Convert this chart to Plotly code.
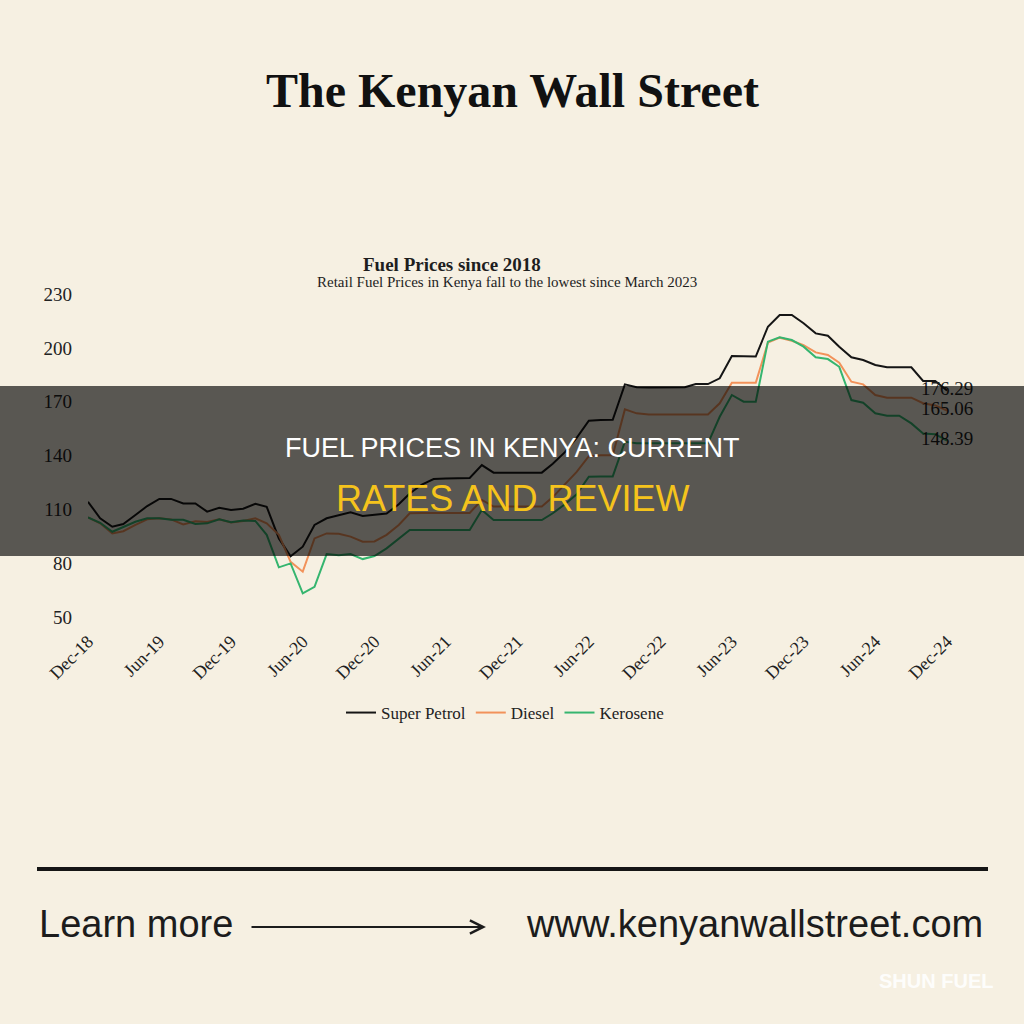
import plotly.graph_objects as go
import pandas as pd

# ---- data (monthly Dec-2018 .. Dec-2024) ----
months = pd.date_range("2018-12-01", "2024-12-01", freq="MS")

super_petrol = [114.4, 105.2, 100.5, 102.0, 107.0, 112.0, 116.0, 116.0, 113.5, 113.5,
                108.9, 111.0, 109.8, 110.5, 113.3, 111.6, 94.0, 84.0, 89.4, 101.5,
                105.2, 106.8, 108.5, 106.5, 107.2, 107.8, 113.0, 119.0, 124.0, 127.0,
                127.4, 127.4, 127.6, 134.8, 130.6, 130.6, 130.6, 130.6, 130.6, 135.5,
                142.0, 150.0, 159.5, 159.9, 160.0, 179.7, 178.1, 178.0, 178.0, 178.0,
                178.1, 179.9, 179.9, 183.1, 195.5, 195.4, 195.2, 211.8, 218.3, 218.3,
                213.7, 208.1, 206.8, 200.7, 194.8, 193.3, 190.5, 189.2, 189.2, 189.2,
                181.6, 181.6, 176.29]

diesel = [105.7, 102.4, 96.8, 98.0, 101.5, 104.6, 105.2, 104.6, 101.8, 103.5,
          103.2, 104.6, 102.9, 103.7, 105.2, 102.4, 96.0, 81.0, 75.5, 94.0,
          96.8, 96.6, 95.0, 92.2, 92.3, 96.0, 101.5, 108.0, 108.2, 108.2,
          108.2, 108.2, 108.2, 115.4, 111.7, 111.7, 111.7, 111.7, 111.7, 117.0,
          124.0, 131.0, 139.8, 140.3, 140.3, 165.8, 163.6, 163.0, 163.0, 163.0,
          163.0, 163.0, 163.0, 169.2, 180.6, 180.6, 180.6, 202.9, 205.7, 204.0,
          201.6, 197.5, 196.1, 191.8, 181.2, 179.7, 173.8, 172.3, 172.3, 172.3,
          169.2, 168.0, 165.06]

kerosene = [105.7, 102.7, 97.7, 100.5, 103.3, 105.2, 105.2, 104.4, 104.4, 102.0,
            102.4, 104.6, 103.0, 104.0, 103.7, 96.0, 77.9, 80.1, 63.4, 67.1,
            85.3, 84.7, 85.3, 82.5, 84.2, 88.5, 94.0, 98.7, 98.7, 98.7,
            98.7, 98.7, 98.7, 109.8, 104.2, 104.2, 104.2, 104.2, 104.2, 108.0,
            113.0, 118.5, 128.3, 128.5, 128.5, 147.8, 146.9, 146.9, 146.9, 146.9,
            146.9, 146.9, 146.9, 161.7, 173.8, 170.1, 170.1, 203.5, 205.9, 204.4,
            200.7, 194.8, 193.8, 189.5, 171.0, 169.5, 163.6, 162.3, 162.3, 158.0,
            152.4, 152.0, 148.39]

series_names = ["Super Petrol", "Diesel", "Kerosene"]
series_values = [super_petrol, diesel, kerosene]
series_colors = ["#151515", "#f2925a", "#35b56f"]

y_ticks = [50, 80, 110, 140, 170, 200, 230]

W = H = 1024
BG = "#f6f0e2"
SERIF = "Liberation Serif"
SANS = "Liberation Sans"


def px(x):
    return x / W


def py(y):
    return 1 - y / H


fig = go.Figure()
for name, vals, col in zip(series_names, series_values, series_colors):
    labels = [""] * (len(vals) - 1) + [f"{vals[-1]:.2f}"]
    fig.add_trace(go.Scatter(
        x=months, y=vals, name=name, mode="lines+text",
        line=dict(color=col, width=2),
        text=labels, textposition="middle center",
        textfont=dict(family=SERIF, size=19, color="#1e1e1e"),
        cliponaxis=False, hoverinfo="skip",
    ))

fig.update_layout(
    template="none",
    width=W, height=H,
    margin=dict(l=0, r=0, t=0, b=0),
    paper_bgcolor=BG, plot_bgcolor=BG,
    showlegend=True,
    legend=dict(orientation="h", x=px(505), xanchor="center",
                y=py(713), yanchor="middle",
                bgcolor="rgba(0,0,0,0)",
                font=dict(family=SERIF, size=17, color="#222"),
                itemwidth=30),
    xaxis=dict(domain=[px(88), px(947)],
               range=[months[0], months[-1]],
               type="date", tick0="2018-12-01", dtick="M6",
               tickformat="%b-%y", tickangle=-45,
               showgrid=False, zeroline=False, showline=False, ticks="",
               ticklabelstandoff=9,
               tickfont=dict(family=SERIF, size=18, color="#222"),
               automargin=False),
    yaxis=dict(domain=[py(617.5), py(294)], range=[50, 230],
               tickvals=y_ticks, ticktext=[str(v) for v in y_ticks],
               showgrid=False, zeroline=False, showline=False, ticks="",
               ticklabelstandoff=15,
               tickfont=dict(family=SERIF, size=19, color="#222"),
               automargin=False),
)

annotations = [
    # masthead
    dict(text="<b>The Kenyan Wall Street</b>", x=px(512), y=py(90),
         font=dict(family=SERIF, size=48, color="#111")),
    # chart title / subtitle
    dict(text="<b>Fuel Prices since 2018</b>", x=px(452), y=py(264),
         font=dict(family=SERIF, size=19, color="#1e1e1e")),
    dict(text="Retail Fuel Prices in Kenya fall to the lowest since March 2023",
         x=px(507), y=py(282),
         font=dict(family=SERIF, size=15, color="#1e1e1e")),
    # banner text
    dict(text="FUEL PRICES IN KENYA: CURRENT", x=px(512), y=py(448),
         font=dict(family=SANS, size=27, color="#ffffff")),
    dict(text="RATES AND REVIEW", x=px(512), y=py(498),
         font=dict(family=SANS, size=36, color="#f5c31c")),
    # footer
    dict(text="Learn more", x=px(37), y=py(924), xanchor="left",
         font=dict(family=SANS, size=38, color="#1c1c1c")),
    dict(text="www.kenyanwallstreet.com", x=px(985), y=py(924), xanchor="right",
         font=dict(family=SANS, size=38, color="#1c1c1c")),
    dict(text="<b>SHUN FUEL</b>", x=px(995), y=py(981), xanchor="right",
         font=dict(family=SANS, size=20, color="rgba(255,255,255,0.9)")),
]
for a in annotations:
    a.setdefault("xanchor", "center")
    a.update(xref="paper", yref="paper", yanchor="middle", showarrow=False)
    fig.add_annotation(**a)

# arrow (tail offset given in pixels)
fig.add_annotation(x=px(486), y=py(927), ax=-236, ay=0,
                   xref="paper", yref="paper",
                   text="", showarrow=True, arrowhead=5, arrowsize=1.3,
                   arrowwidth=2, arrowcolor="#1c1c1c")

# footer rule
fig.add_shape(type="line", xref="paper", yref="paper",
              x0=px(37), x1=px(988), y0=py(869), y1=py(869),
              line=dict(color="#151515", width=4))

# dark banner overlay
fig.add_shape(type="rect", xref="paper", yref="paper", layer="above",
              x0=0, x1=1, y0=py(556), y1=py(386),
              fillcolor="rgba(0,0,0,0.64)", line=dict(width=0))

fig.write_html("out.html")
